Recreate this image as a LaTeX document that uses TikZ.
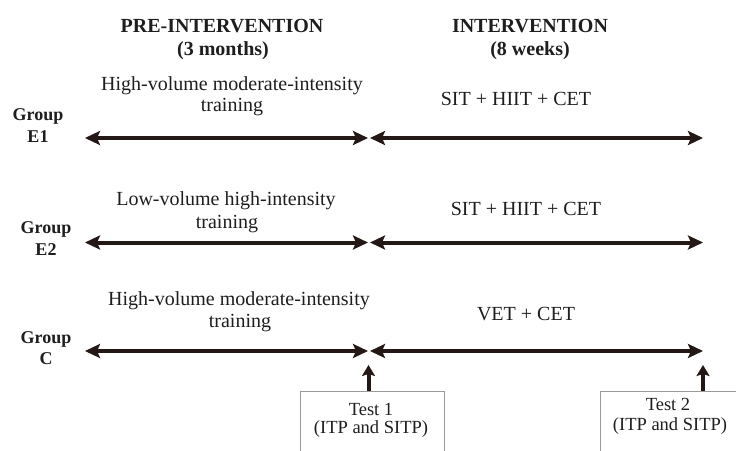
\documentclass[tikz,border=0pt]{standalone}
\usepackage{fontspec}
\setmainfont{Liberation Serif}
\usetikzlibrary{arrows.meta}
\definecolor{arr}{HTML}{231815}
\definecolor{txt}{HTML}{1E1E1E}
\definecolor{boxgray}{HTML}{9A9A9A}
\begin{document}
\begin{tikzpicture}[x=1pt,y=-1pt,
 lbl/.style={anchor=base, inner sep=0pt, text=txt, font=\fontsize{20}{24}\selectfont},
 hdr/.style={lbl, font=\fontsize{20}{24}\selectfont\bfseries},
 grp/.style={lbl, font=\fontsize{18}{22}\selectfont\bfseries},
 tst/.style={lbl, font=\fontsize{18.5}{22}\selectfont},
 period/.style={draw=arr, line width=4pt, {Stealth[length=15pt,width=14pt,inset=3pt]}-{Stealth[length=15pt,width=14pt,inset=3pt]}},
 uparr/.style={draw=arr, line width=4pt, -{Stealth[length=11pt,width=13pt,inset=2pt]}},
 testbox/.style={draw=boxgray, line width=1.2pt, fill=white, anchor=north west, inner sep=0pt}]
\useasboundingbox (0,0) rectangle (736,450);
\clip (0,0) rectangle (736,450);
\fill[white] (0,0) rectangle (736,450);

% headers
\node[hdr] (h1) at (222,32) {PRE-INTERVENTION};
\node[hdr] (h1b) at (223,55) {(3 months)};
\node[hdr] (h2) at (530,32) {INTERVENTION};
\node[hdr] (h2b) at (530,55) {(8 weeks)};

% row 1
\node[lbl] (p1a) at (232,90) {High-volume moderate-intensity};
\node[lbl] (p1b) at (232,111) {training};
\node[lbl] (i1) at (516,105) {SIT + HIIT + CET};
\node[grp] (g1a) at (38,120) {Group};
\node[grp] (g1b) at (38,142) {E1};
\coordinate (r1a) at (85,138);
\coordinate (r1m) at (368,138);
\coordinate (r1n) at (370,138);
\coordinate (r1b) at (703,138);
\draw[period] (r1a) -- (r1m);
\draw[period] (r1n) -- (r1b);

% row 2
\node[lbl] (p2a) at (226,205) {Low-volume high-intensity};
\node[lbl] (p2b) at (227,228) {training};
\node[lbl] (i2) at (526,215) {SIT + HIIT + CET};
\node[grp] (g2a) at (46,233) {Group};
\node[grp] (g2b) at (46,255) {E2};
\coordinate (r2a) at (85,242.5);
\coordinate (r2m) at (368,242.5);
\coordinate (r2n) at (370,242.5);
\coordinate (r2b) at (703,242.5);
\draw[period] (r2a) -- (r2m);
\draw[period] (r2n) -- (r2b);

% row 3
\node[lbl] (p3a) at (239,305) {High-volume moderate-intensity};
\node[lbl] (p3b) at (240,327) {training};
\node[lbl] (i3) at (526,320) {VET + CET};
\node[grp] (g3a) at (46,343) {Group};
\node[grp] (g3b) at (46,364) {C};
\coordinate (r3a) at (85,351);
\coordinate (r3m) at (368,351);
\coordinate (r3n) at (370,351);
\coordinate (r3b) at (703,351);
\draw[period] (r3a) -- (r3m);
\draw[period] (r3n) -- (r3b);

% tests
\node[testbox, minimum width=144pt, minimum height=80pt] (t1) at (300,391) {};
\node[tst] (t1a) at (371,415) {Test 1};
\node[tst] (t1b) at (371,433) {(ITP and SITP)};
\node[testbox, minimum width=160pt, minimum height=80pt] (t2) at (600,391) {};
\node[tst] (t2a) at (668,410) {Test 2};
\node[tst] (t2b) at (670,430) {(ITP and SITP)};
\coordinate (u1) at (368.5,365);
\coordinate (u2) at (703,365);
\draw[uparr] (u1 |- t1.north) -- (u1);
\draw[uparr] (u2 |- t2.north) -- (u2);
\end{tikzpicture}
\end{document}
